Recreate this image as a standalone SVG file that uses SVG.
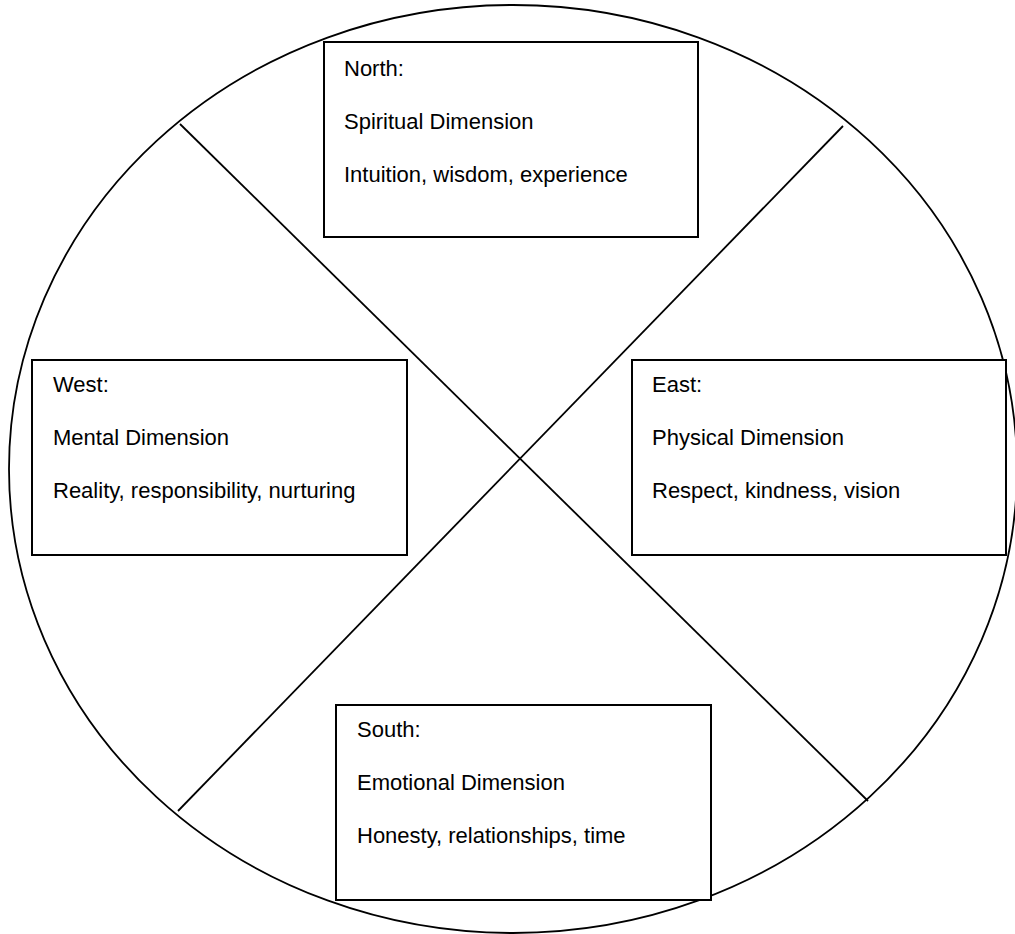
<svg xmlns="http://www.w3.org/2000/svg" width="1015" height="934" viewBox="0 0 1015 934">
<style>
.box{fill:#fff;stroke:#000;stroke-width:2}
.ln{stroke:#000;stroke-width:1.8;fill:none}
text{font-family:"Liberation Sans",Arial,sans-serif;font-size:22px;fill:#000}
</style>
<rect width="1015" height="934" fill="#fff"/>
<ellipse id="wheel" cx="513" cy="469" rx="504" ry="464" class="ln"/>
<g id="connectors">
<line class="ln" x1="180" y1="124" x2="868" y2="801"/>
<line class="ln" x1="843" y1="126" x2="178" y2="811"/>
</g>
<g id="north">
<rect class="box" x="324" y="42" width="374" height="195"/>
<text x="344" y="76">North:</text>
<text x="344" y="129">Spiritual Dimension</text>
<text x="344" y="182">Intuition, wisdom, experience</text>
</g>
<g id="west">
<rect class="box" x="32" y="360" width="375" height="195"/>
<text x="53" y="392">West:</text>
<text x="53" y="445">Mental Dimension</text>
<text x="53" y="498">Reality, responsibility, nurturing</text>
</g>
<g id="east">
<rect class="box" x="632" y="360" width="374" height="195"/>
<text x="652" y="392">East:</text>
<text x="652" y="445">Physical Dimension</text>
<text x="652" y="498">Respect, kindness, vision</text>
</g>
<g id="south">
<rect class="box" x="336" y="705" width="375" height="195"/>
<text x="357" y="737">South:</text>
<text x="357" y="790">Emotional Dimension</text>
<text x="357" y="843">Honesty, relationships, time</text>
</g>
</svg>
